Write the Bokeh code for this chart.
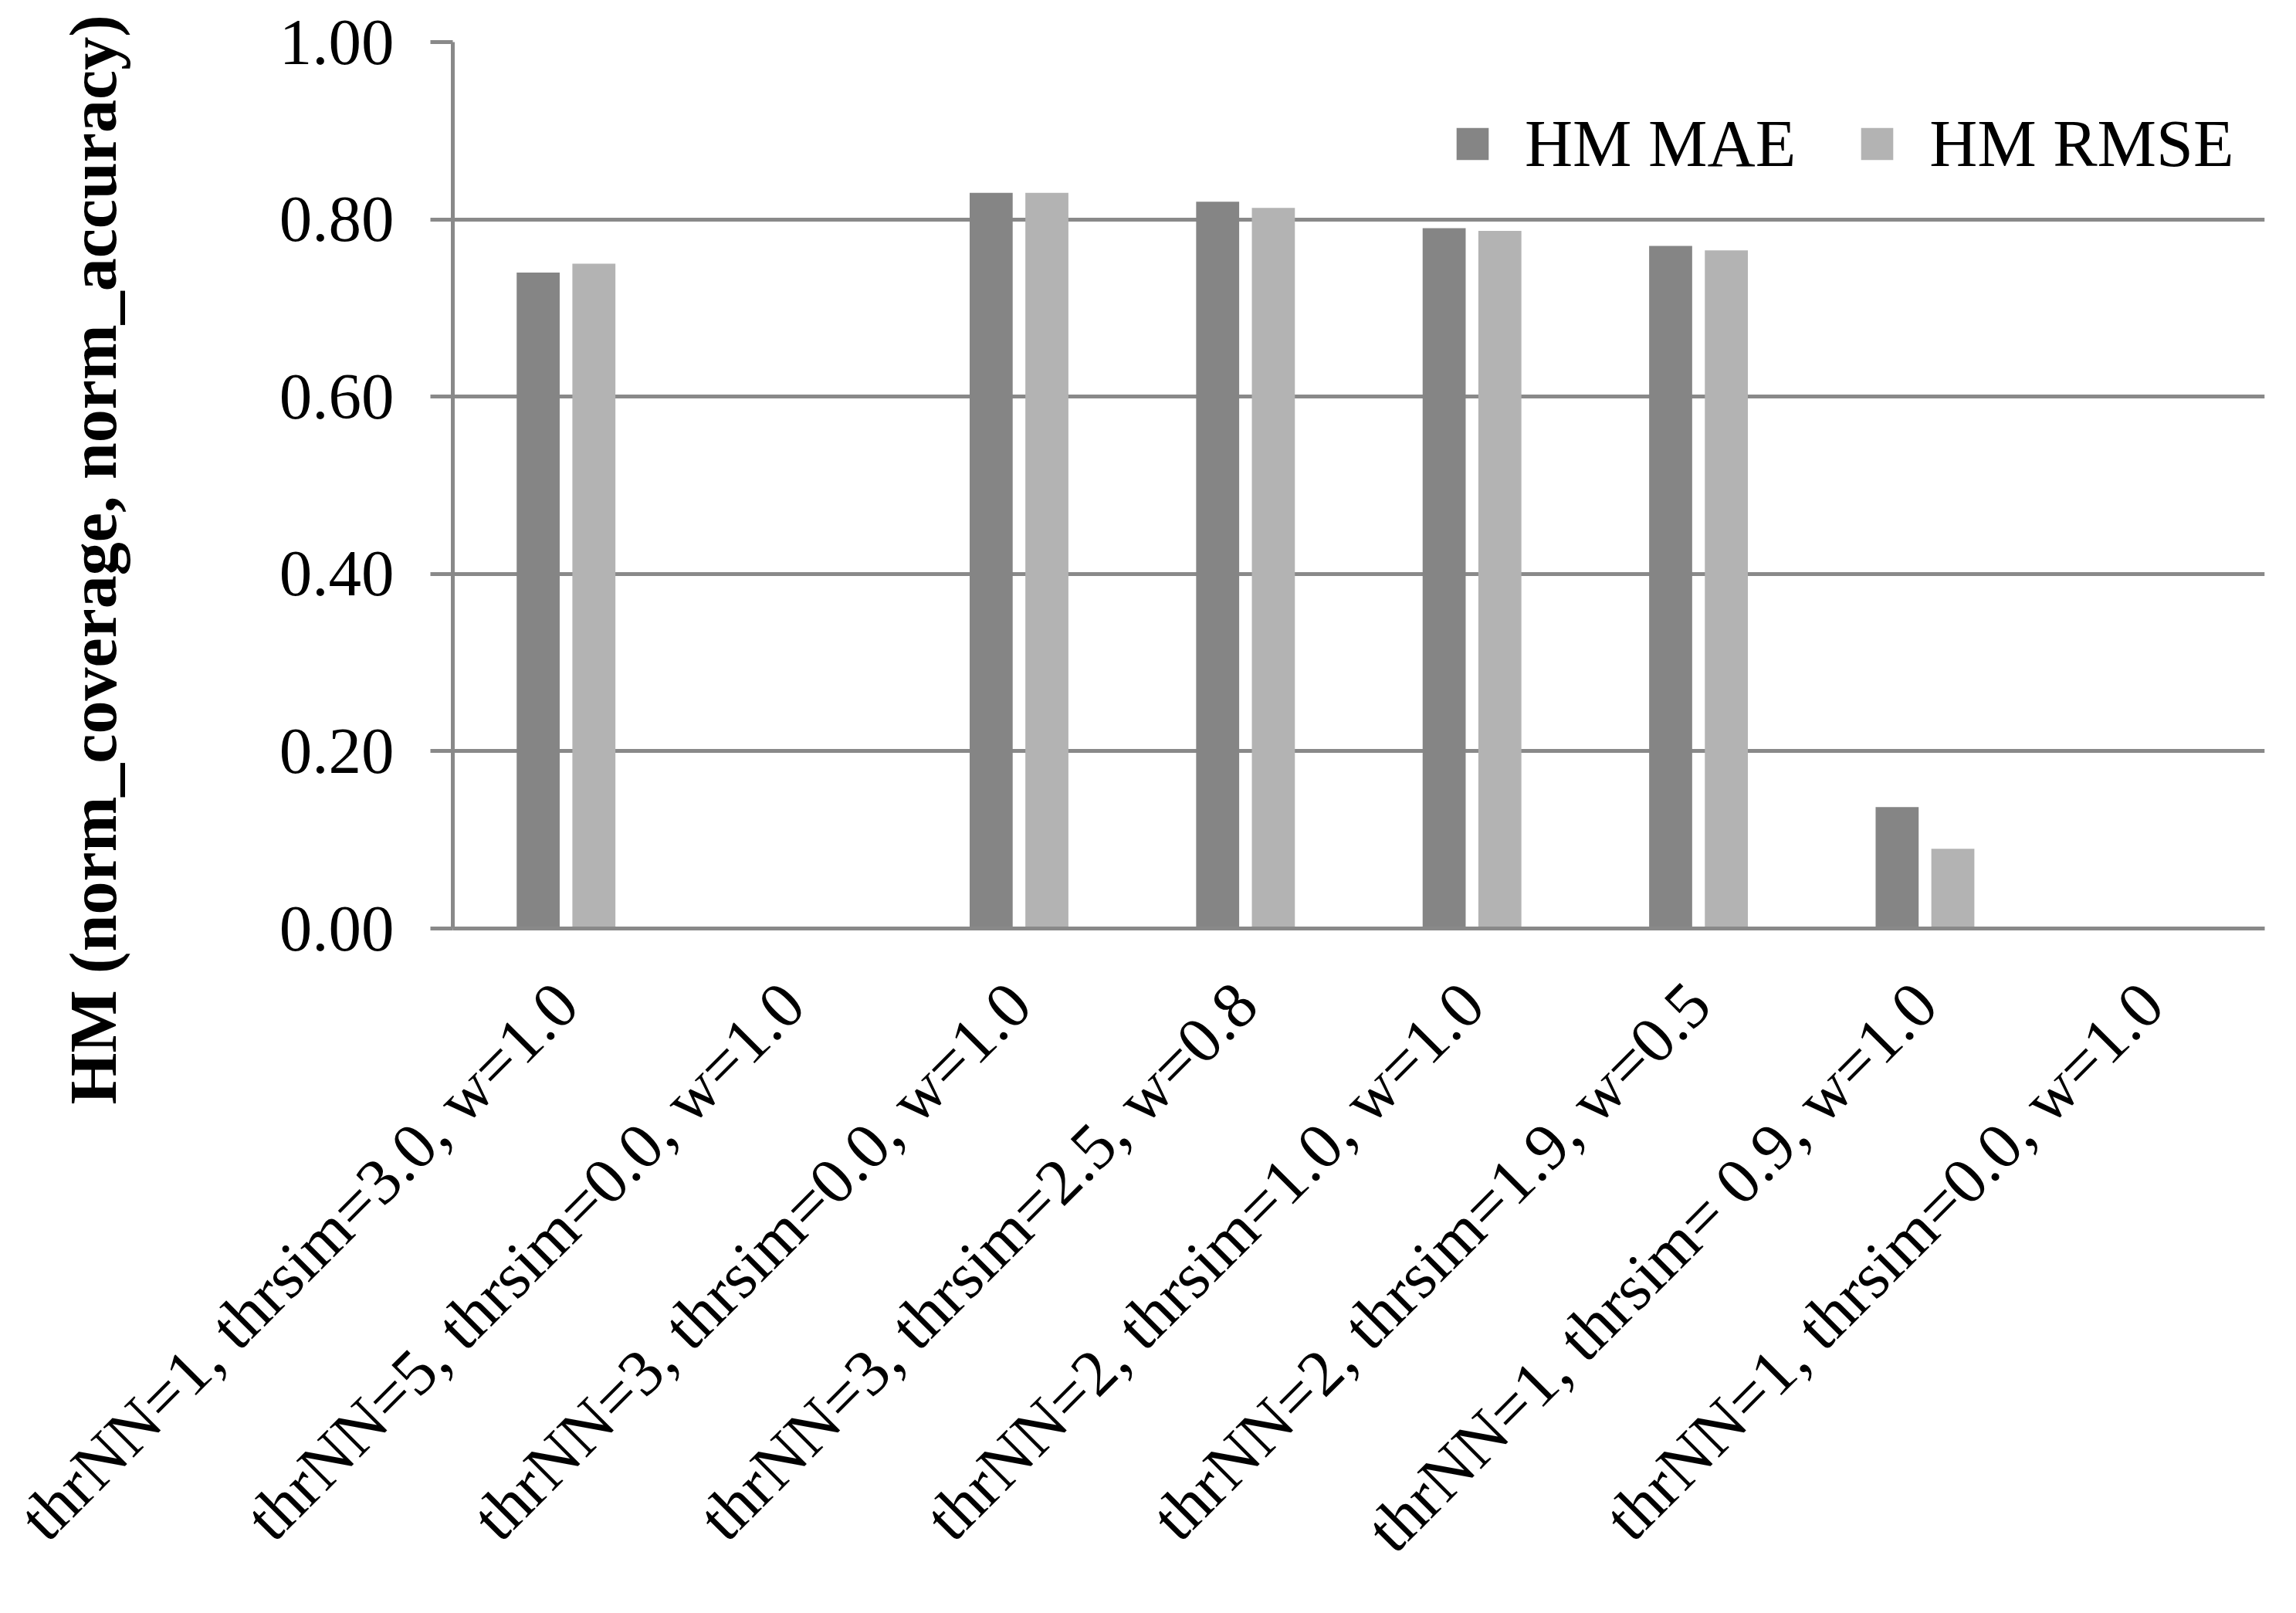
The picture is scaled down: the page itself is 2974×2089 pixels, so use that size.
import math
from bokeh.plotting import figure
from bokeh.models import (ColumnDataSource, FixedTicker, NumeralTickFormatter, Legend,
                          LegendItem, Range1d, Title)
from bokeh.transform import dodge
from bokeh.embed import file_html
from bokeh.resources import INLINE

categories = [
    "thrNN=1, thrsim=3.0, w=1.0",
    "thrNN=5, thrsim=0.0, w=1.0",
    "thrNN=3, thrsim=0.0, w=1.0",
    "thrNN=3, thrsim=2.5, w=0.8",
    "thrNN=2, thrsim=1.0, w=1.0",
    "thrNN=2, thrsim=1.9, w=0.5",
    "thrNN=1, thrsim= 0.9, w=1.0",
    "thrNN=1, thrsim=0.0, w=1.0",
]
hm_mae = [0.74, 0.0, 0.83, 0.82, 0.79, 0.77, 0.137, 0.0]
hm_rmse = [0.75, 0.0, 0.83, 0.813, 0.787, 0.765, 0.09, 0.0]
y_ticks = [0.0, 0.2, 0.4, 0.6, 0.8, 1.0]
y_title = "HM (norm_coverage, norm_accuracy)"

FONT = "Liberation Serif"
GRID = "#898989"
DARK = "#858585"
LIGHT = "#B3B3B3"

src = ColumnDataSource(dict(cat=categories, mae=hm_mae, rmse=hm_rmse))

W, H = 2958, 2073
p = figure(x_range=categories, y_range=Range1d(0, 1.0), width=W, height=H,
           output_backend="svg", toolbar_location=None,
           min_border_left=586, min_border_right=25, min_border_top=54, min_border_bottom=871)
p.outline_line_color = None
p.background_fill_color = "white"
p.border_fill_color = "white"

r1 = p.vbar(x=dodge("cat", -0.123, range=p.x_range), top="mae", width=0.19, source=src,
            fill_color=DARK, line_color=None)
r2 = p.vbar(x=dodge("cat", 0.123, range=p.x_range), top="rmse", width=0.19, source=src,
            fill_color=LIGHT, line_color=None)

# y axis
p.yaxis.ticker = FixedTicker(ticks=y_ticks)
p.yaxis.formatter = NumeralTickFormatter(format="0.00")
p.yaxis.major_label_text_font = FONT
p.yaxis.major_label_text_font_size = "85px"
p.yaxis.major_label_text_color = "black"
p.yaxis.axis_line_color = GRID
p.yaxis.axis_line_width = 5
p.yaxis.major_tick_line_color = GRID
p.yaxis.major_tick_line_width = 5
p.yaxis.major_tick_out = 29
p.yaxis.major_tick_in = 0
p.yaxis.minor_tick_line_color = None
p.yaxis.major_label_standoff = 47

# x axis
p.xaxis.major_label_orientation = math.pi / 4
p.xaxis.major_label_text_font = FONT
p.xaxis.major_label_text_font_size = "85px"
p.xaxis.major_label_text_color = "black"
p.xaxis.axis_line_color = GRID
p.xaxis.axis_line_width = 5
p.xaxis.major_tick_line_color = None
p.xaxis.minor_tick_line_color = None
p.xaxis.major_label_standoff = 78

p.xgrid.grid_line_color = None
p.ygrid.grid_line_color = GRID
p.ygrid.grid_line_width = 5
p.ygrid.ticker = FixedTicker(ticks=y_ticks)

legend = Legend(items=[LegendItem(label="HM MAE", renderers=[r1]),
                       LegendItem(label="HM RMSE", renderers=[r2])],
                orientation="horizontal", location=(1295, 966),
                label_text_font=FONT, label_text_font_size="86px", label_text_color="black",
                glyph_width=52, glyph_height=52, label_standoff=42, spacing=79,
                padding=0, margin=0, border_line_color=None, background_fill_alpha=0)
p.add_layout(legend)

# spacer panel between the y tick labels and the y title
spacer = Title(text=" ", text_font_size="1px", standoff=187, text_color="white")
p.add_layout(spacer, "left")

# y title: starts below the frame bottom and runs upward
ttl = Title(text=y_title, align="left", vertical_align="bottom", offset=-228, standoff=0,
            text_font=FONT, text_font_size="86px", text_font_style="bold",
            text_color="black")
p.add_layout(ttl, "left")

open("out.html", "w").write(file_html(p, INLINE))
